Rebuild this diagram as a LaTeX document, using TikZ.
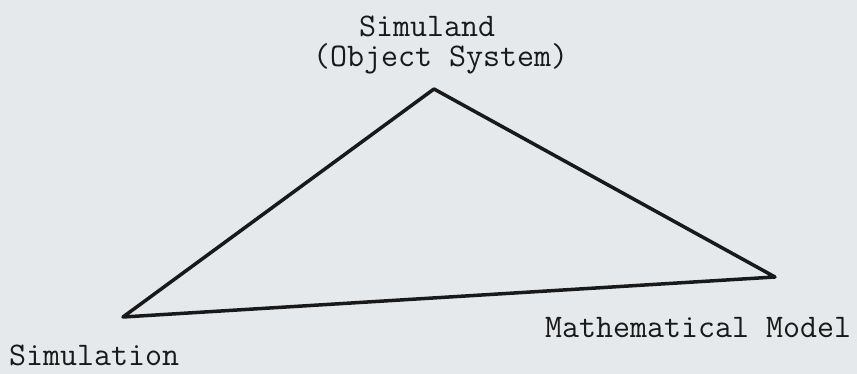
\documentclass[tikz,border=0pt]{standalone}
\usepackage{fontspec}
\definecolor{paper}{RGB}{229,233,235}
\definecolor{ink}{RGB}{25,25,25}
\begin{document}
\begin{tikzpicture}[x=1pt,y=-1pt,
  lbl/.style={inner sep=0pt,anchor=base west,text=ink,font=\fontsize{33}{35}\selectfont\ttfamily\addfontfeatures{FakeBold=2}},
  edge/.style={draw=ink,line width=3.5pt,line join=round,line cap=round}]
\fill[paper] (0,0) rectangle (857,374);
\useasboundingbox (0,0) rectangle (857,374);
\coordinate (top) at (434,89);
\coordinate (left) at (123,317);
\coordinate (right) at (775,277);
\node[lbl] (simuland) at (359,37) {Simuland};
\node[lbl] (object) at (313,67) {(Object System)};
\node[lbl] (simulation) at (9,365) {Simulation};
\node[lbl] (math) at (545,337) {Mathematical Model};
\draw[edge] (top) -- (right) -- (left) -- cycle;
\end{tikzpicture}
\end{document}
